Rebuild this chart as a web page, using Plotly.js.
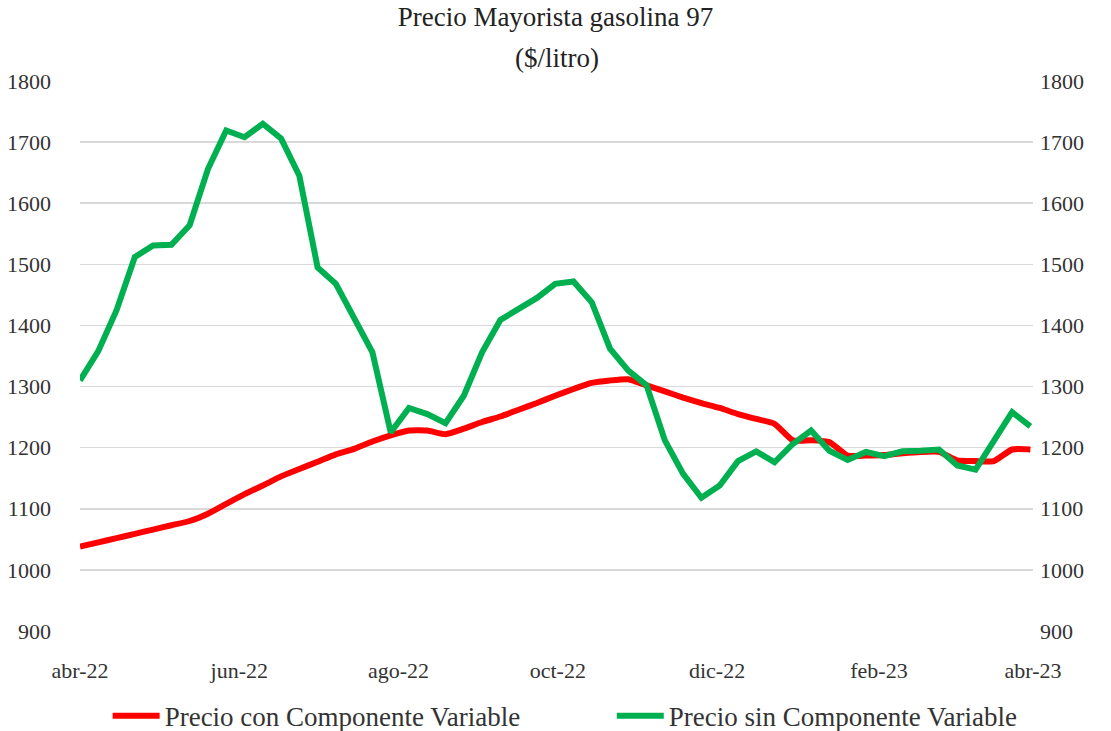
<!DOCTYPE html>
<html>
<head>
<meta charset="utf-8">
<script src="https://cdn.plot.ly/plotly-3.0.1.min.js"></script>
<style>html,body{margin:0;padding:0;background:#fff;}#chart{width:1111px;height:731px;}</style>
</head>
<body>
<div id="chart"></div>
<script>
const fechas = ["2022-04-07","2022-04-14","2022-04-21","2022-04-28","2022-05-05","2022-05-12","2022-05-19","2022-05-26",
"2022-06-02","2022-06-09","2022-06-16","2022-06-23","2022-06-30","2022-07-07","2022-07-14","2022-07-21","2022-07-28",
"2022-08-04","2022-08-11","2022-08-18","2022-08-25","2022-09-01","2022-09-08","2022-09-15","2022-09-22","2022-09-29",
"2022-10-06","2022-10-13","2022-10-20","2022-10-27","2022-11-03","2022-11-10","2022-11-17","2022-11-24",
"2022-12-01","2022-12-08","2022-12-15","2022-12-22","2022-12-29","2023-01-05","2023-01-12","2023-01-19","2023-01-26",
"2023-02-02","2023-02-09","2023-02-16","2023-02-23","2023-03-02","2023-03-09","2023-03-16","2023-03-23","2023-03-30","2023-04-06"];

const precioConComponente = [1038,1045,1052,1059,1066,1073,1080,1092,1108,1124,1138,1153,1165,1177,1189,1198,1210,1220,1228,
1228,1222,1231,1242,1251,1262,1273,1285,1296,1306,1310,1312,1302,1292,1282,1273,1265,1255,1247,1239,
1212,1212,1209,1187,1187,1188,1191,1193,1193,1179,1178,1178,1197,1197];

const precioSinComponente = [1310,1358,1425,1512,1531,1532,1564,1656,1719,1708,1730,1706,1645,1495,1468,1413,1356,1225,1265,
1255,1240,1285,1356,1409,1426,1445,1468,1472,1438,1362,1326,1302,1212,1157,1118,1138,1178,1194,1176,
1206,1228,1195,1180,1193,1186,1194,1195,1197,1171,1164,1211,1258,1235];

const tickFechas = ["2022-04-07","2022-06-07","2022-08-07","2022-10-07","2022-12-07","2023-02-07","2023-04-07"];
const tickTextos = ["abr-22","jun-22","ago-22","oct-22","dic-22","feb-23","abr-23"];
const yTicks = [900,1000,1100,1200,1300,1400,1500,1600,1700,1800];

const fontFam = "Liberation Serif, serif";
const traces = [
  {x: fechas, y: precioConComponente, type: 'scatter', mode: 'lines', name: 'Precio con Componente Variable',
   legend: 'legend', line: {color: '#FF0000', width: 6, shape: 'spline', smoothing: 0.5}},
  {x: fechas, y: precioSinComponente, type: 'scatter', mode: 'lines', name: 'Precio sin Componente Variable',
   legend: 'legend2', yaxis: 'y2', line: {color: '#00B050', width: 6}}
];

const legendFont = {family: fontFam, size: 27, color: '#333'};
const layout = {
  width: 1111, height: 731,
  margin: {l: 80, r: 78, t: 81, b: 100, autoexpand: false},
  paper_bgcolor: '#fff', plot_bgcolor: '#fff',
  font: {family: fontFam, color: '#333', size: 22},
  title: {text: 'Precio Mayorista gasolina 97', x: 0.5, xanchor: 'center', yref: 'container', y: 0.977, yanchor: 'middle',
          font: {family: fontFam, size: 27, color: '#222'}},
  annotations: [{text: '($/litro)', xref: 'paper', yref: 'paper', x: 0.5, y: 1.042, xanchor: 'center', yanchor: 'middle',
          showarrow: false, font: {family: fontFam, size: 27, color: '#222'}}],
  xaxis: {type: 'date', range: ['2022-04-07','2023-04-07'], tickvals: tickFechas, ticktext: tickTextos,
          showgrid: false, zeroline: false, showline: false, ticks: '', ticklabelstandoff: 24,
          tickfont: {family: fontFam, size: 22, color: '#333'}},
  yaxis: {range: [900, 1800], tickvals: yTicks, showgrid: true, gridcolor: '#D9D9D9', gridwidth: 1.5,
          zeroline: false, showline: false, ticks: '', ticklabelstandoff: 28,
          tickfont: {family: fontFam, size: 22, color: '#333'}},
  yaxis2: {range: [900, 1800], tickvals: yTicks, overlaying: 'y', side: 'right', showgrid: false,
          zeroline: false, showline: false, ticks: '', ticklabelstandoff: 6,
          tickfont: {family: fontFam, size: 22, color: '#333'}},
  showlegend: true,
  legend: {orientation: 'h', x: 0.029, xanchor: 'left', y: -0.155, yanchor: 'middle', font: legendFont, itemwidth: 47},
  legend2: {orientation: 'h', x: 0.558, xanchor: 'left', y: -0.155, yanchor: 'middle', font: legendFont, itemwidth: 47}
};

Plotly.newPlot('chart', traces, layout, {displayModeBar: false, staticPlot: true});
</script>
</body>
</html>
